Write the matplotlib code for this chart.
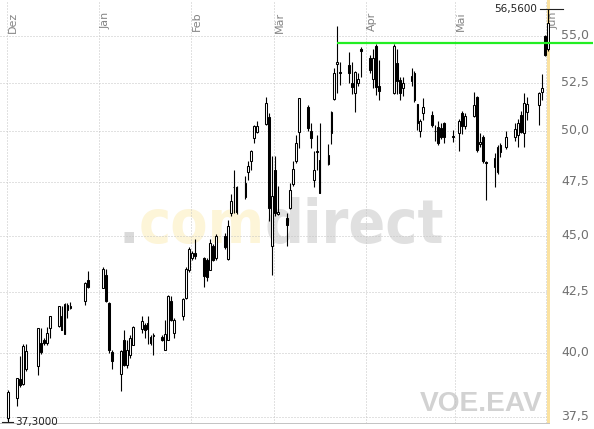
import matplotlib
matplotlib.use("Agg")
import matplotlib.pyplot as plt
import matplotlib.dates as mdates
from matplotlib.patches import Rectangle
from matplotlib.ticker import FixedLocator, FuncFormatter, NullLocator
from matplotlib.transforms import ScaledTranslation
from matplotlib import font_manager
from matplotlib.font_manager import FontProperties

# ---------------- data ----------------
dates = [
    "2017-12-01", "2017-12-04", "2017-12-05", "2017-12-06", "2017-12-07",
    "2017-12-11", "2017-12-12", "2017-12-13", "2017-12-14", "2017-12-15",
    "2017-12-18", "2017-12-19", "2017-12-20", "2017-12-21", "2017-12-22",
    "2017-12-27", "2017-12-28",
    "2018-01-02", "2018-01-03", "2018-01-04", "2018-01-05",
    "2018-01-08", "2018-01-09", "2018-01-10", "2018-01-11", "2018-01-12",
    "2018-01-15", "2018-01-16", "2018-01-17", "2018-01-18", "2018-01-19",
    "2018-01-22", "2018-01-23", "2018-01-24", "2018-01-25", "2018-01-26",
    "2018-01-29", "2018-01-30", "2018-01-31", "2018-02-01", "2018-02-02",
    "2018-02-05", "2018-02-06", "2018-02-07", "2018-02-08", "2018-02-09",
    "2018-02-12", "2018-02-13", "2018-02-14", "2018-02-15", "2018-02-16",
    "2018-02-19", "2018-02-20", "2018-02-21", "2018-02-22", "2018-02-23",
    "2018-02-26", "2018-02-27", "2018-02-28", "2018-03-01", "2018-03-02",
    "2018-03-05", "2018-03-06", "2018-03-07", "2018-03-08", "2018-03-09",
    "2018-03-12", "2018-03-13", "2018-03-14", "2018-03-15", "2018-03-16",
    "2018-03-19", "2018-03-20", "2018-03-21", "2018-03-22", "2018-03-23",
    "2018-03-26", "2018-03-27", "2018-03-28", "2018-03-29", "2018-03-30",
    "2018-04-02", "2018-04-03", "2018-04-04", "2018-04-05",
    "2018-04-10", "2018-04-11", "2018-04-12", "2018-04-13",
    "2018-04-16", "2018-04-17", "2018-04-18", "2018-04-19", "2018-04-20",
    "2018-04-23", "2018-04-24", "2018-04-25", "2018-04-26", "2018-04-27",
    "2018-04-30", "2018-05-02", "2018-05-03", "2018-05-04",
    "2018-05-07", "2018-05-08", "2018-05-09", "2018-05-10", "2018-05-11",
    "2018-05-14", "2018-05-15", "2018-05-16", "2018-05-18",
    "2018-05-21", "2018-05-22", "2018-05-23", "2018-05-24", "2018-05-25",
    "2018-05-29", "2018-05-30", "2018-05-31", "2018-06-01",
]
opens = [
    37.45, 38.20, 38.95, 38.75, 39.33,
    39.45, 40.38, 40.50, 40.38, 41.00,
    41.10, 41.50, 40.77, 41.76, 41.83,
    42.13, 43.04,
    42.70, 43.23, 42.05, 40.02,
    39.16, 40.52, 39.52, 39.92, 40.32,
    40.97, 41.13, 41.20, 40.65, 40.68,
    40.65, 40.12, 40.52, 42.12, 40.80,
    41.50, 42.27, 43.48, 44.00, 44.20,
    44.00, 43.90, 43.48, 44.52, 44.00,
    45.00, 43.95, 46.03, 47.25, 47.28,
    46.78, 47.97, 48.49, 49.64, 49.97,
    50.35, 50.70, 44.52, 48.05, 46.00,
    45.81, 46.27, 47.41, 48.49, 49.94,
    51.20, 50.00, 47.57, 49.00, 48.54,
    48.37, 49.89, 51.63, 53.50, 53.08,
    53.42, 52.49, 51.97, 52.49, 54.28,
    53.84, 52.67, 54.47, 52.31,
    51.97, 53.52, 52.63, 52.20,
    52.60, 52.99, 51.38, 50.02, 50.91,
    50.81, 50.02, 50.18, 50.14, 50.39,
    49.75, 49.89, 50.91, 50.23,
    50.74, 51.76, 49.35, 49.72, 48.45,
    48.22, 48.00, 49.30, 49.19,
    49.69, 49.80, 50.81, 49.89, 50.99,
    51.33, 52.02, 55.00, 54.28,
]
highs = [
    38.50, 39.00, 39.85, 40.35, 40.35,
    41.00, 41.00, 40.60, 41.03, 41.50,
    41.90, 41.90, 42.05, 42.06, 42.10,
    42.95, 43.43,
    43.60, 43.50, 42.10, 40.10,
    40.10, 40.93, 40.50, 40.70, 41.10,
    41.50, 41.20, 41.50, 40.70, 40.80,
    40.70, 41.35, 42.40, 42.35, 41.40,
    42.25, 43.60, 44.50, 44.30, 44.86,
    44.05, 44.00, 44.86, 44.60, 45.05,
    45.10, 45.69, 46.93, 48.08, 47.30,
    47.80, 48.50, 49.05, 50.30, 50.50,
    51.73, 50.90, 48.76, 48.76, 47.30,
    46.05, 47.44, 48.49, 49.80, 51.70,
    51.30, 50.40, 49.01, 49.80, 50.40,
    49.35, 51.00, 53.30, 55.55, 53.60,
    54.15, 53.60, 53.10, 53.00, 54.40,
    54.00, 54.30, 54.60, 53.70,
    54.60, 54.30, 52.80, 52.80,
    53.30, 53.10, 51.40, 50.60, 51.68,
    51.00, 50.30, 50.50, 50.40, 50.45,
    50.05, 50.60, 51.00, 50.90,
    52.02, 51.80, 49.90, 49.80, 48.50,
    48.90, 49.30, 49.40, 50.00,
    50.40, 50.60, 51.00, 51.94, 51.76,
    52.00, 52.94, 55.10, 56.56,
]
lows = [
    37.30, 37.90, 38.65, 38.70, 39.25,
    39.10, 39.95, 40.30, 40.30, 40.60,
    41.05, 40.90, 40.75, 41.40, 41.80,
    41.97, 42.70,
    42.70, 42.10, 40.00, 39.33,
    38.47, 39.45, 39.40, 39.80, 40.30,
    40.80, 40.60, 40.35, 40.30, 39.92,
    40.45, 40.10, 40.50, 41.30, 40.59,
    41.35, 42.20, 43.40, 43.90, 43.95,
    42.75, 43.00, 43.45, 43.85, 43.90,
    44.40, 43.90, 45.90, 46.03, 46.00,
    46.70, 47.60, 48.08, 49.39, 49.90,
    50.30, 45.67, 43.26, 45.90, 45.95,
    44.55, 46.20, 47.30, 48.40, 49.13,
    50.00, 49.13, 47.25, 48.08, 46.95,
    48.30, 49.35, 51.60, 51.94, 52.37,
    52.46, 51.90, 50.99, 52.30, 52.80,
    53.00, 52.20, 51.85, 51.59,
    51.90, 51.90, 51.60, 51.80,
    52.30, 51.50, 50.05, 49.72, 50.56,
    50.20, 49.50, 49.30, 49.60, 49.40,
    49.45, 48.99, 49.85, 50.10,
    50.70, 48.97, 49.20, 48.40, 46.65,
    47.28, 47.90, 48.70, 49.10,
    49.50, 49.20, 49.90, 49.20, 50.56,
    50.31, 51.59, 53.90, 54.20,
]
closes = [
    38.45, 39.00, 38.72, 40.25, 40.06,
    41.00, 40.02, 40.38, 40.80, 41.50,
    41.90, 40.93, 42.00, 41.97, 41.93,
    42.90, 42.75,
    43.52, 42.12, 40.12, 39.68,
    40.05, 39.52, 40.12, 40.59, 41.03,
    41.30, 40.93, 40.97, 40.38, 40.72,
    40.52, 40.77, 42.33, 41.35, 41.35,
    42.22, 43.52, 44.38, 44.23, 44.10,
    43.20, 43.15, 44.68, 43.92, 45.00,
    44.50, 45.44, 46.60, 47.28, 46.10,
    47.44, 48.27, 49.01, 50.27, 50.25,
    51.42, 46.27, 46.81, 46.03, 46.10,
    45.49, 47.12, 48.13, 49.42, 51.68,
    50.14, 49.64, 48.08, 48.95, 46.99,
    48.80, 50.95, 52.99, 53.60, 53.00,
    52.99, 52.25, 53.08, 52.71, 54.20,
    53.17, 53.84, 52.28, 52.07,
    54.47, 52.57, 51.94, 52.49,
    52.84, 51.59, 50.40, 50.48, 51.21,
    50.31, 49.98, 49.39, 49.72, 49.72,
    49.70, 50.53, 50.23, 50.78,
    51.33, 49.04, 49.47, 48.49, 48.40,
    48.68, 49.22, 48.97, 49.72,
    50.08, 50.39, 49.97, 51.42, 51.38,
    51.94, 52.20, 53.98, 55.72,
]

month_starts = ["2017-12-01", "2018-01-01", "2018-02-01", "2018-03-01",
                "2018-04-01", "2018-05-01", "2018-06-01"]
month_labels = ["Dez", "Jan", "Feb", "Mär", "Apr", "Mai", "Jun"]
y_ticks = [37.5, 40.0, 42.5, 45.0, 47.5, 50.0, 52.5, 55.0]
resistance_level = 54.63
resistance_start = "2018-03-22"
symbol = "VOE.EAV"
brand_parts = [".", "com", "direct"]

# ---------------- figure ----------------
W, H = 594, 429
fig = plt.figure(figsize=(W / 100, H / 100), dpi=100)
fig.patch.set_facecolor("white")
ax = fig.add_axes([0, 6 / H, 550 / W, 423 / H])
ax.set_facecolor("white")

xd = mdates.datestr2num(dates) + 0.5          # candle at middle of the day
xm = mdates.datestr2num(month_starts)
x0 = xd[0]
ax.set_xlim(x0 - 2.76, x0 + 182.7)
ax.set_yscale("log")
ax.set_ylim(37.26, 57.05)

# grid
grid_kw = dict(color="#c4c4c4", linewidth=0.72, linestyle=(0, (1, 2)))
ax.xaxis.set_major_locator(FixedLocator(xm))
ax.yaxis.set_major_locator(FixedLocator(y_ticks))
ax.yaxis.set_minor_locator(NullLocator())
ax.xaxis.set_minor_locator(NullLocator())
ax.grid(True, **grid_kw)
ax.set_axisbelow(True)
ax.yaxis.set_major_formatter(FuncFormatter(lambda v, p: f"{v:.1f}".replace(".", ",")))
ax.yaxis.tick_right()
ax.tick_params(axis="y", length=0, pad=8, labelsize=9, labelcolor="#707070")
ax.tick_params(axis="x", length=0, labelbottom=False)
for s in ("top", "left", "right"):
    ax.spines[s].set_visible(False)
ax.spines["bottom"].set_color("#c4c4c4")
ax.spines["bottom"].set_linestyle((0, (1, 1)))
ax.spines["bottom"].set_linewidth(0.72)
lift = ScaledTranslation(0, 2 / 100, fig.dpi_scale_trans)
for lab in ax.get_yticklabels():
    lab.set_transform(lab.get_transform() + lift)

# month labels
for m, lab in zip(xm, month_labels):
    ax.annotate(lab, xy=(m, 1), xycoords=("data", "axes fraction"),
                xytext=(1.2, -8.5), textcoords="offset points", rotation=90,
                ha="left", va="top", fontsize=8, color="#858585",
                annotation_clip=False)

# ---- watermark font: prefer a condensed bold sans ----
wm_prop = None
for f in font_manager.fontManager.ttflist:
    if f.name in ("Liberation Sans Narrow",) and f.weight in (700, "bold"):
        wm_prop = FontProperties(fname=f.fname)
        break
if wm_prop is None:
    for f in font_manager.fontManager.ttflist:
        if (f.name == "DejaVu Sans" and str(f.stretch).lower() in ("condensed", "semi-condensed")
                and f.weight in (700, "bold")):
            wm_prop = FontProperties(fname=f.fname)
            break
if wm_prop is None:
    wm_prop = FontProperties(family="Liberation Sans", weight="bold")

wm_colors = ["#dadada", "#fdf5d8", "#e0e0e0"]
fs = 50
wm_prop.set_size(fs)
t_prev = ax.text(118 / 550, 1 - 243 / 423, brand_parts[0], transform=ax.transAxes,
                 fontproperties=wm_prop.copy(), color=wm_colors[0],
                 ha="left", va="baseline", zorder=0)
brand_texts = [t_prev]
for part, col in zip(brand_parts[1:], wm_colors[1:]):
    t = ax.annotate(part, xy=(1, 0), xycoords=t_prev, ha="left", va="bottom",
                    fontproperties=wm_prop.copy(), color=col, zorder=0)
    brand_texts.append(t)
    t_prev = t

sym = ax.text(543 / 550, 1 - 411 / 423, symbol, transform=ax.transAxes,
              fontsize=20, fontweight="bold", family="Liberation Sans",
              color="#d2d2d2", ha="right", va="baseline", zorder=0)

fig.canvas.draw()
r = fig.canvas.get_renderer()
b0 = brand_texts[0].get_window_extent(r)
b1 = brand_texts[-1].get_window_extent(r)
scale = 326 / (b1.x1 - b0.x0)
for t in brand_texts:
    t.set_fontsize(fs * scale)
bs = sym.get_window_extent(r)
sym.set_fontsize(20 * 123 / bs.width)

# last-day highlight
ax.axvline(xd[-1], color="#fbe2a0", linewidth=2.2, zorder=1)

# resistance line
xr = mdates.datestr2num(resistance_start) + 0.5
xl = ax.get_xlim()
x_end = xl[1] + (xl[1] - xl[0]) * 43 / 550
ax.plot([xr, x_end], [resistance_level] * 2, color="#22ee22", linewidth=1.6,
        solid_capstyle="butt", zorder=5, clip_on=False)

# candles
w = 0.62
for xi, o, h, l, c in zip(xd, opens, highs, lows, closes):
    ax.vlines(xi, l, h, color="black", linewidth=0.8, zorder=3)
    up = c >= o
    ax.add_patch(Rectangle((xi - w / 2, min(o, c)), w, abs(c - o),
                           facecolor="white" if up else "black",
                           edgecolor="black", linewidth=0.75, zorder=4))

# high / low markers
i_hi = max(range(len(highs)), key=lambda i: highs[i])
i_lo = min(range(len(lows)), key=lambda i: lows[i])
ax.plot([xd[i_hi] - 2.7, xd[i_hi] + 5.0], [highs[i_hi]] * 2, color="#222222",
        linewidth=0.8, clip_on=False, zorder=6)
ax.annotate(f"{highs[i_hi]:.4f}".replace(".", ","), xy=(xd[i_hi] - 2.7, highs[i_hi]),
            xytext=(-2, 0), textcoords="offset points", ha="right", va="center",
            fontsize=7.5, color="#222222", annotation_clip=False)
ax.plot([xd[i_lo] - 2.1, xd[i_lo] + 1.6], [lows[i_lo]] * 2, color="#222222",
        linewidth=0.8, clip_on=False, zorder=6)
ax.annotate(f"{lows[i_lo]:.4f}".replace(".", ","), xy=(xd[i_lo] + 1.6, lows[i_lo]),
            xytext=(1.5, 0), textcoords="offset points", ha="left", va="center",
            fontsize=7.5, color="#222222", annotation_clip=False)

fig.savefig("out.png", dpi=100)
